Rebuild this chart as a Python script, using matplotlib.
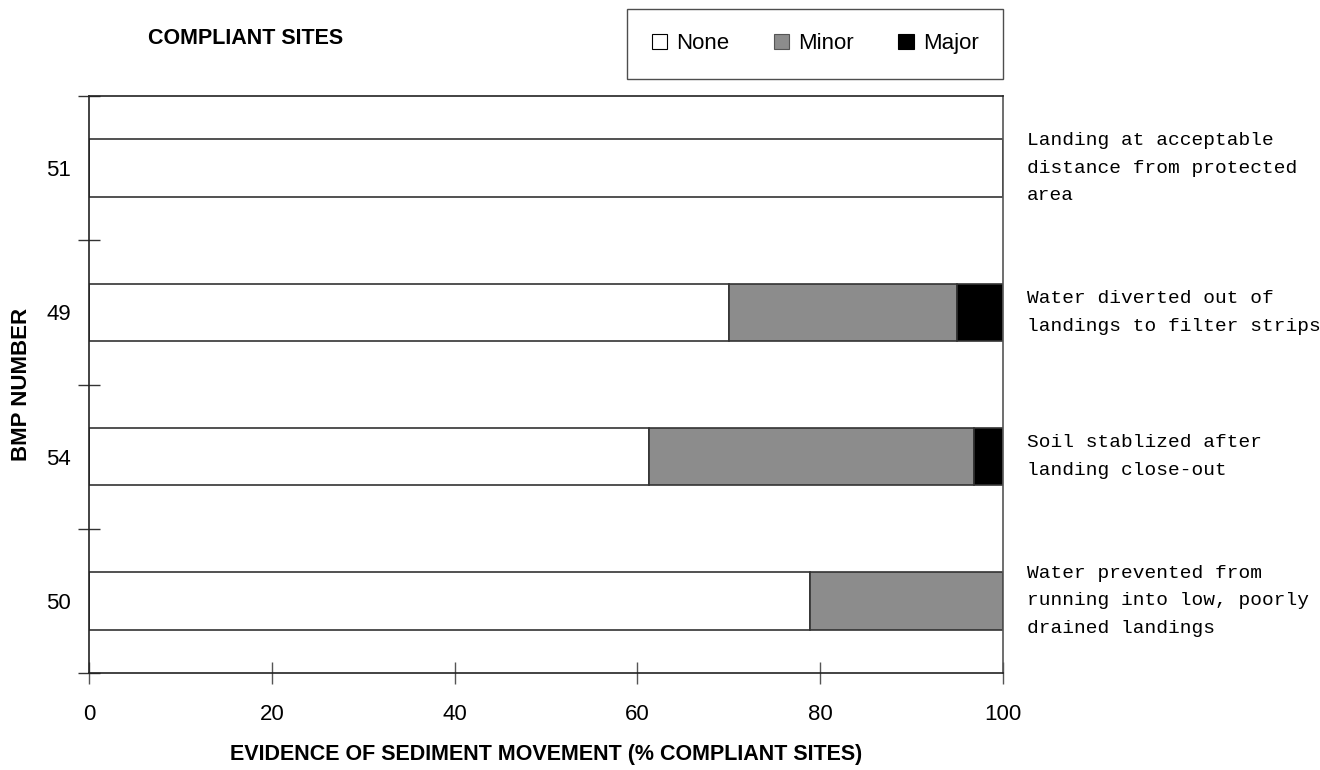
import numpy as np
import matplotlib.pyplot as plt
from matplotlib.patches import Patch

# data (top to bottom as drawn)
bmp_numbers = ['51', '49', '54', '50']
pct_none = [100.0, 70.0, 61.3, 78.9]
pct_minor = [0.0, 25.0, 35.5, 21.1]
pct_major = [0.0, 5.0, 3.2, 0.0]
descriptions = [
    'Landing at acceptable\ndistance from protected\narea',
    'Water diverted out of\nlandings to filter strips',
    'Soil stablized after\nlanding close-out',
    'Water prevented from\nrunning into low, poorly\ndrained landings',
]
x_ticks = [0, 20, 40, 60, 80, 100]

plt.rcParams['font.family'] = ['Liberation Sans', 'DejaVu Sans']

fig = plt.figure(figsize=(13.2, 7.7), dpi=100)
ax = fig.add_axes([89 / 1320, 1 - 673 / 770, (1003 - 89) / 1320, (673 - 96) / 770])

y = np.arange(len(bmp_numbers))
none = np.array(pct_none)
minor = np.array(pct_minor)
major = np.array(pct_major)
edge = '#333333'
ax.barh(y, none, height=0.4, color='white', edgecolor=edge, linewidth=1.2)
ax.barh(y, minor, left=none, height=0.4, color='#8c8c8c', edgecolor=edge, linewidth=1.2)
ax.barh(y, major, left=none + minor, height=0.4, color='black', edgecolor=edge, linewidth=1.2)

ax.set_xlim(0, 100)
ax.set_ylim(len(bmp_numbers) - 0.5, -0.5)
ax.set_xticks(x_ticks)
ax.set_xticklabels([str(t) for t in x_ticks], fontsize=16)
ax.tick_params(axis='x', direction='inout', length=16, width=1, color='#555555', pad=14)
ax.set_yticks(y)
ax.set_yticklabels(bmp_numbers, fontsize=16)
ax.tick_params(axis='y', which='major', length=0, pad=13)
ax.set_yticks(np.arange(len(bmp_numbers) + 1) - 0.5, minor=True)
ax.tick_params(axis='y', which='minor', direction='inout', length=16, width=1, color='#333333')

for side in ['left', 'right', 'top', 'bottom']:
    ax.spines[side].set_color('#222222')
    ax.spines[side].set_linewidth(1.2)
ax.spines['right'].set_color('#555555')

for yi, txt in zip(y, descriptions):
    ax.text(102.6, yi, txt, fontsize=14, family='Liberation Mono', va='center', ha='left',
            linespacing=1.8, clip_on=False)

ax.set_xlabel('EVIDENCE OF SEDIMENT MOVEMENT (% COMPLIANT SITES)', fontsize=15.5,
              fontweight='bold', labelpad=14)
ax.set_ylabel('BMP NUMBER', fontsize=16, fontweight='bold', labelpad=10)

fig.text(148 / 1320, 1 - 38 / 770, 'COMPLIANT SITES', fontsize=15.5, fontweight='bold',
         va='center', ha='left')

handles = [Patch(facecolor='white', edgecolor='black', linewidth=0.8, label='None'),
           Patch(facecolor='#8c8c8c', edgecolor='#555555', linewidth=0.8, label='Minor'),
           Patch(facecolor='black', edgecolor='black', linewidth=0.8, label='Major')]
leg = fig.legend(handles=handles, ncol=3, loc='upper right',
                 bbox_to_anchor=(1003 / 1320, 1 - 9 / 770), fontsize=16, frameon=True,
                 fancybox=False, handlelength=0.7, handleheight=0.7, handletextpad=0.4,
                 columnspacing=2.0, borderpad=1.1, borderaxespad=0)
leg.get_frame().set_edgecolor('#222222')
leg.get_frame().set_linewidth(1.0)

fig.savefig('out.png', dpi=100)
